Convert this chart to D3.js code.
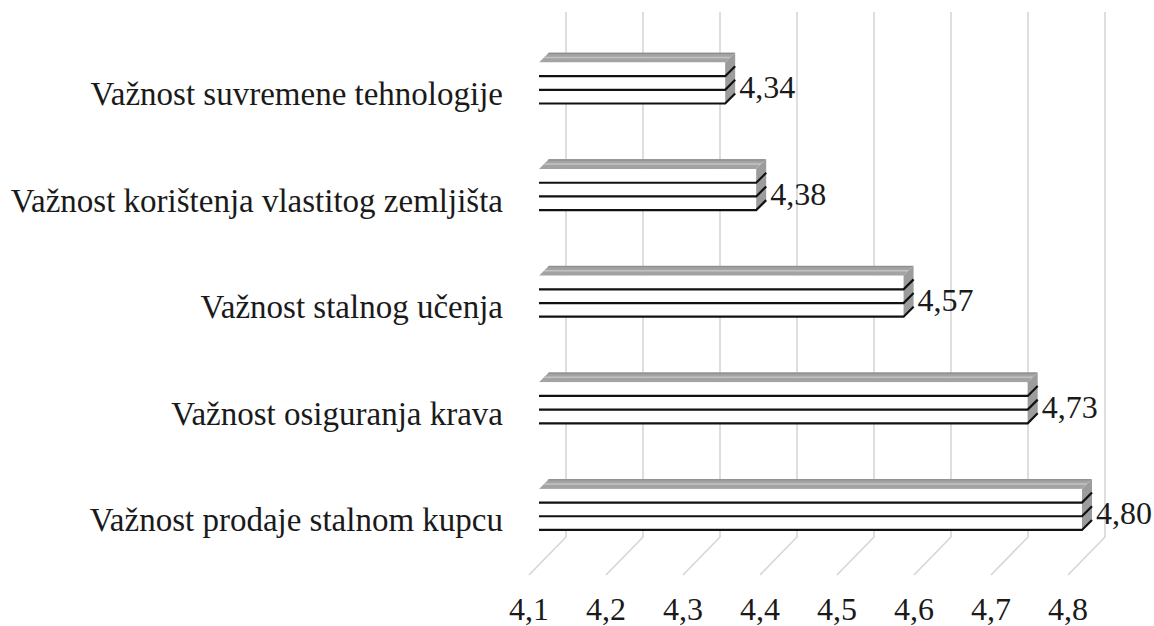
<!DOCTYPE html>
<html>
<head>
<meta charset="utf-8">
<script src="https://cdn.jsdelivr.net/npm/d3@7"></script>
<style>
  html, body { margin: 0; padding: 0; background: #fff; }
  text { font-family: "Liberation Serif", "Times New Roman", "DejaVu Serif", serif; }
</style>
</head>
<body>
<svg width="1154" height="626"></svg>
<script>
const categories = [
    "Važnost suvremene tehnologije",
    "Važnost korištenja vlastitog zemljišta",
    "Važnost stalnog učenja",
    "Važnost osiguranja krava",
    "Važnost prodaje stalnom kupcu"
];
const values = [4.34, 4.38, 4.57, 4.73, 4.80];
const tickValues = [4.1, 4.2, 4.3, 4.4, 4.5, 4.6, 4.7, 4.8];

const FONT = "'Liberation Serif', 'Times New Roman', serif";

const svg = d3.select("svg");
const locale = d3.formatLocale({decimal: ",", thousands: ".", grouping: [3], currency: ["", ""]});
const fmtTick = locale.format(".1f");
const fmtVal = locale.format(".2f");

// back wall, bar plane and front plane of the 3d box
const xWall = d3.scaleLinear().domain([4.1, 4.8]).range([566, 1105]);
const xBar = d3.scaleLinear().domain([4.1, 4.8]).range([539, 1082]);
const depth = 37;     // floor depth
const barDepth = 10;  // bar thickness
const wallTop = 12, wallBottom = 537;

const y = d3.scaleBand().domain(categories)
    .range([29.7, 562.7])
    .paddingInner(0.615)
    .paddingOuter(0.3075);

// gridlines: vertical on the wall, then slanted across the floor
const grid = svg.append("g");
grid.selectAll("path").data(tickValues)
    .enter().append("path")
    .attr("d", d => {
        const x = xWall(d);
        return `M${x},${wallTop} L${x},${wallBottom} L${x - depth},${wallBottom + depth + 1}`;
    })
    .attr("fill", "none")
    .attr("stroke", "#d6d6d6")
    .attr("stroke-width", 1.6);

svg.append("g").selectAll("text").data(tickValues)
    .enter().append("text")
    .attr("x", d => xWall(d) - depth)
    .attr("y", 620)
    .attr("text-anchor", "middle")
    .attr("font-family", FONT)
    .attr("font-size", 32)
    .attr("fill", "#1a1a1a")
    .text(d => fmtTick(d));

// category labels
svg.append("g").selectAll("text").data(categories)
    .enter().append("text")
    .attr("x", 503)
    .attr("y", d => y(d) + y.bandwidth() / 2 + 22)
    .attr("text-anchor", "end")
    .attr("font-family", FONT)
    .attr("font-size", 33)
    .attr("fill", "#1a1a1a")
    .text(d => d);

// bars
const bars = svg.append("g").selectAll("g").data(values)
    .enter().append("g");

bars.each(function(v, i) {
    const g = d3.select(this);
    const x0 = xBar(4.1), x1 = xBar(v);
    const top = y(categories[i]), h = y.bandwidth(), bot = top + h;
    const d = barDepth;

    // top face
    g.append("path")
        .attr("d", `M${x0},${top} L${x0 + d},${top - d} L${x1 + d},${top - d} L${x1},${top} Z`)
        .attr("fill", "#a3a3a3");
    g.append("line")
        .attr("x1", x0 + d * 0.5).attr("y1", top - d * 0.5)
        .attr("x2", x1 + d * 0.5).attr("y2", top - d * 0.5)
        .attr("stroke", "#c4c4c4").attr("stroke-width", 1.5);
    g.append("line")
        .attr("x1", x0 + d * 0.9).attr("y1", top - d * 0.9)
        .attr("x2", x1 + d * 0.9).attr("y2", top - d * 0.9)
        .attr("stroke", "#8a8a8a").attr("stroke-width", 1);

    // front face
    g.append("rect")
        .attr("x", x0).attr("y", top)
        .attr("width", x1 - x0).attr("height", h)
        .attr("fill", "#fff");

    // right face
    g.append("path")
        .attr("d", `M${x1},${top} L${x1 + d},${top - d} L${x1 + d},${bot - d} L${x1},${bot} Z`)
        .attr("fill", "#9c9c9c");

    // striped pattern: three horizontal lines continuing onto the side
    [1, 2, 3].forEach(k => {
        const ly = top + h * k / 3;
        g.append("path")
            .attr("d", `M${x0},${ly} L${x1},${ly} L${x1 + d},${ly - d}`)
            .attr("fill", "none")
            .attr("stroke", "#111")
            .attr("stroke-width", 2.2);
    });

    // value label
    g.append("text")
        .attr("x", x1 + 14)
        .attr("y", top + h / 2 + 15)
        .attr("font-family", FONT)
        .attr("font-size", 32)
        .attr("fill", "#1a1a1a")
        .text(fmtVal(v));
});
</script>
</body>
</html>
